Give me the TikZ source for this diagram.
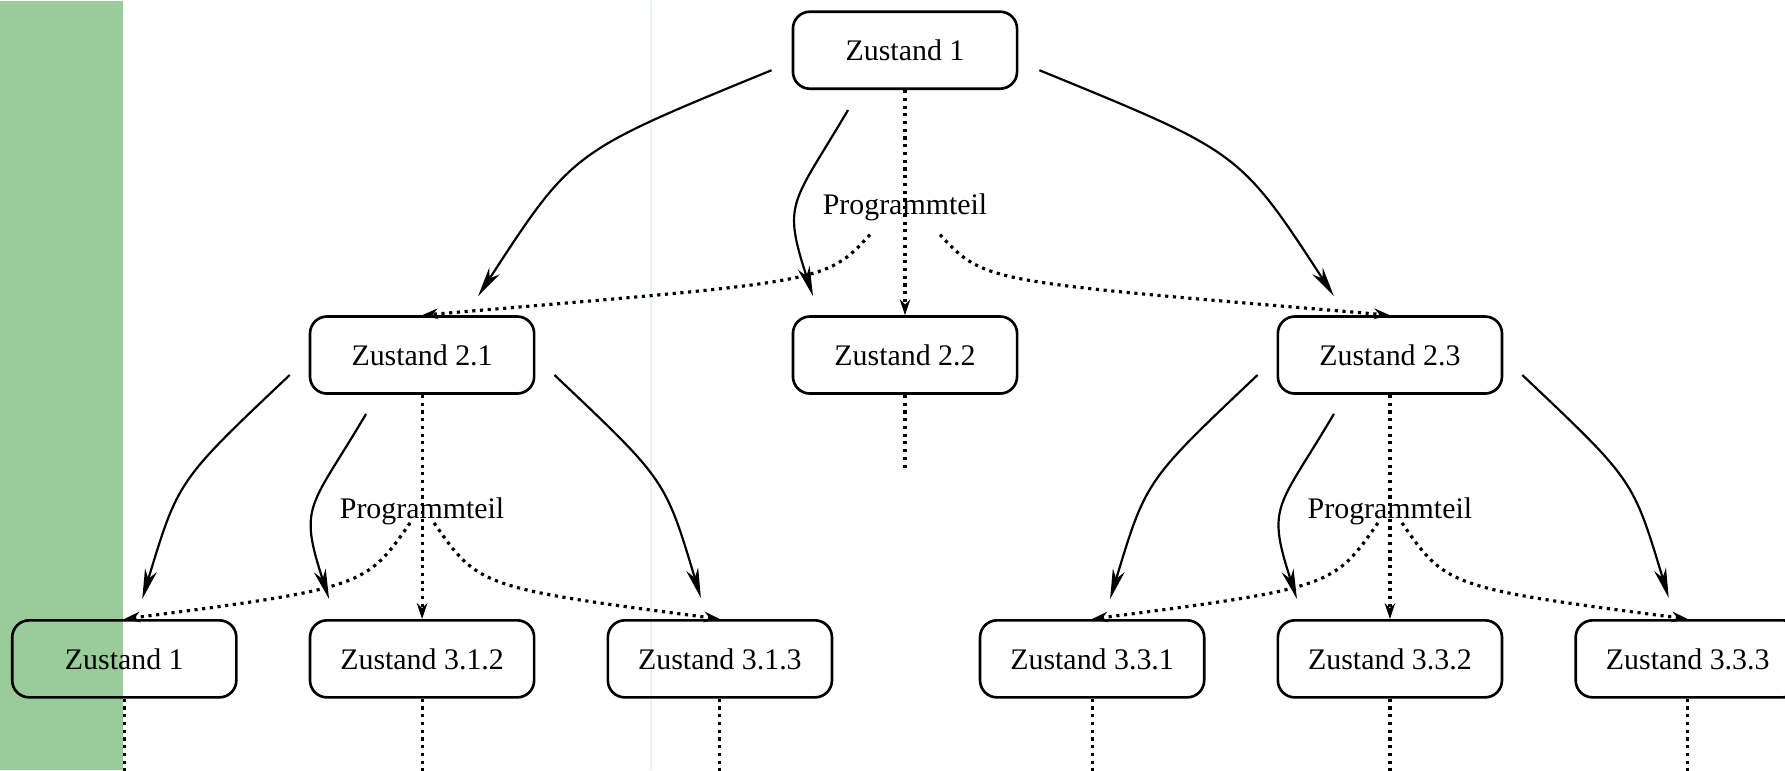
\documentclass[tikz,border=0pt]{standalone}
\usepackage{fontspec}
\setmainfont{Liberation Serif}
\usetikzlibrary{arrows.meta,positioning,calc}
\definecolor{band}{RGB}{153,204,153}
\definecolor{faintline}{RGB}{232,242,236}

\begin{document}
\begin{tikzpicture}[
x=0.01cm, y=-0.01cm,
state/.style={draw, rounded corners=0.17cm, align=center, minimum width=2.24cm, minimum height=0.77cm, inner sep=2pt, line width=0.75pt, font=\fontsize{8.5}{10}\selectfont},
part/.style={inner sep=0pt, yshift=-0.045cm, font=\fontsize{8.5}{10}\selectfont},
trans/.style={-{Stealth[length=8.5pt, width=3.5pt, inset=2.5pt]}, line width=0.62pt},
seq/.style={dash pattern=on 0.9pt off 1.3pt, line width=0.9pt},
seqarrow/.style={seq, -{Stealth[length=4.5pt, width=3pt]}}
]
\fill[white] (0,0) rectangle (1785,769);
\fill[band] (0,0) rectangle (123,769);
\draw[faintline, line width=0.4pt] (651,0) -- (651,769);
\useasboundingbox (0,0) rectangle (1785,769);

\node[state] (z1) at (905,49.5) {Zustand 1};
\node[state, below=2.25cm of z1] (z22) {Zustand 2.2};
\node[state, left=2.56cm of z22] (z21) {Zustand 2.1};
\node[state, right=2.58cm of z22] (z23) {Zustand 2.3};
\node[state, below=2.24cm of z21] (z312) {Zustand 3.1.2};
\node[state, left=0.71cm of z312] (z31) {Zustand 1};
\node[state, right=0.71cm of z312] (z313) {Zustand 3.1.3};
\node[state, below=2.24cm of z23] (z332) {Zustand 3.3.2};
\node[state, left=0.71cm of z332] (z331) {Zustand 3.3.1};
\node[state, right=0.71cm of z332] (z333) {Zustand 3.3.3};
\node[part] (p1) at ($(z1.south)!0.5!(z22.north)$) {Programmteil};
\node[part] (p21) at ($(z21.south)!0.5!(z312.north)$) {Programmteil};
\node[part] (p23) at ($(z23.south)!0.5!(z332.north)$) {Programmteil};

% Zustand 1
\draw[trans] ($(z1.west)+(-20,20)$) .. controls +(-200,82) and +(95,-146) .. ($(z21.north)+(56,-19)$);
\draw[trans] ($(z1.south)+(-57,20)$) .. controls +(-56,95) and +(-31,-95) .. ($(z22.north)+(-92,-19)$);
\draw[trans] ($(z1.east)+(21,20)$) .. controls +(200,82) and +(-95,-146) .. ($(z23.north)+(-56,-19)$);
\draw[seqarrow] (z1.south) -- (z22.north);
\draw[seqarrow] ($(p1.center)+(-35,27.5)$) .. controls +(-45,49) and +(403,-34) .. (z21.north);
\draw[seqarrow] ($(p1.center)+(35,27.5)$) .. controls +(45,49) and +(-403,-34) .. (z23.north);
\draw[seq] (z22.south) -- ++(0,74);

% Zustand 2.1
\draw[trans] ($(z21.west)+(-19,20)$) .. controls +(-112,106) and +(36,-119) .. ($(z31.north)+(18,-20)$);
\draw[trans] ($(z21.south)+(-56,19)$) .. controls +(-56,95) and +(-31,-95) .. ($(z312.north)+(-93,-20)$);
\draw[trans] ($(z21.east)+(19,20)$) .. controls +(112,106) and +(-36,-119) .. ($(z313.north)+(-19,-21)$);
\draw[seqarrow] (z21.south) -- (z312.north);
\draw[seqarrow] ($(p21.center)+(-12,11.5)$) .. controls +(-44,63) and +(241,-31) .. (z31.north);
\draw[seqarrow] ($(p21.center)+(12,11.5)$) .. controls +(44,63) and +(-241,-31) .. (z313.north);

% Zustand 2.3
\draw[trans] ($(z23.west)+(-19,20)$) .. controls +(-112,106) and +(36,-119) .. ($(z331.north)+(18,-20)$);
\draw[trans] ($(z23.south)+(-56,19)$) .. controls +(-56,95) and +(-31,-95) .. ($(z332.north)+(-93,-20)$);
\draw[trans] ($(z23.east)+(19,20)$) .. controls +(112,106) and +(-36,-119) .. ($(z333.north)+(-19,-21)$);
\draw[seqarrow] (z23.south) -- (z332.north);
\draw[seqarrow] ($(p23.center)+(-12,11.5)$) .. controls +(-44,63) and +(241,-31) .. (z331.north);
\draw[seqarrow] ($(p23.center)+(12,11.5)$) .. controls +(44,63) and +(-241,-31) .. (z333.north);

% Ebene 3
\draw[seq] (z31.south) -- ++(0,75);
\draw[seq] (z312.south) -- ++(0,75);
\draw[seq] (z313.south) -- ++(0,75);
\draw[seq] (z331.south) -- ++(0,75);
\draw[seq] (z332.south) -- ++(0,75);
\draw[seq] (z333.south) -- ++(0,75);
\end{tikzpicture}
\end{document}
